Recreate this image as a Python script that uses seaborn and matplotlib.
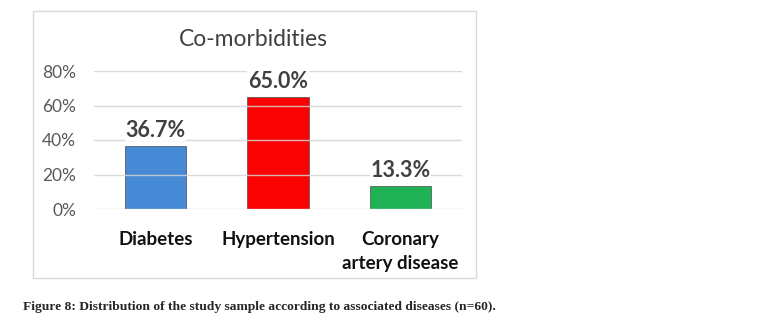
import matplotlib
matplotlib.use('Agg')
import matplotlib.pyplot as plt
import matplotlib.patches as mpatches
import seaborn as sns
import pandas as pd

categories = ['Diabetes', 'Hypertension', 'Coronary\nartery disease']
percent = [36.7, 65.0, 13.3]
bar_colors = ['#4689d4', '#fb0303', '#1fb356']
yticks = [0, 20, 40, 60, 80]

df = pd.DataFrame({'Disease': categories, 'Percent': percent})

sns.set_style('white')
plt.rcParams['font.family'] = ['Lato', 'DejaVu Sans']

fig = plt.figure(figsize=(7.64, 3.33), dpi=100)
# chart frame like the office-style box
fig.patches.append(mpatches.Rectangle((33 / 764, 1 - 278 / 333), 443 / 764, 267 / 333,
                                      transform=fig.transFigure, fill=False,
                                      edgecolor='#d9d9d9', linewidth=1.0))

ax = fig.add_axes([94 / 764, 1 - 209 / 333, 368 / 764, 138 / 333])
sns.barplot(data=df, x='Disease', y='Percent', hue='Disease', palette=bar_colors,
            width=0.5, legend=False, ax=ax, saturation=1,
            edgecolor='#4d4d4d', linewidth=0.5)
for patch in ax.patches:
    patch.set_zorder(1)
ax.set_xlim(-0.5, 2.5)
ax.set_ylim(0, 80)

# gridlines run across the bars, as in the original
ax.grid(False)
for t in yticks:
    ax.axhline(t, color='#d4d4d4', linewidth=1.0, alpha=0.85, zorder=2)

ax.set_yticks(yticks)
ax.set_yticklabels([f'{t}%' for t in yticks], color='#595959', fontsize=12.5)
ax.tick_params(axis='y', length=0, pad=13)
ax.tick_params(axis='x', length=0, pad=16)
ax.set_xticks(range(len(categories)))
ax.set_xticklabels(categories, fontsize=13.5, fontweight='bold', color='#111111',
                   linespacing=1.45)
ax.set_xlabel('')
ax.set_ylabel('')
for s in ax.spines.values():
    s.set_visible(False)

for i, v in enumerate(percent):
    ax.text(i, v + 3, f'{v:.1f}%', ha='center', va='bottom', fontsize=15.5,
            fontweight='bold', color='#404040', zorder=4,
            bbox=dict(facecolor='white', edgecolor='none', pad=0.5))

fig.text(253 / 764, 1 - 39 / 333, 'Co-morbidities', ha='center', va='center',
         fontsize=16.5, color='#404040')

fig.text(23 / 764, 1 - 307 / 333,
         'Figure 8: Distribution of the study sample according to associated diseases (n=60).',
         ha='left', va='center', fontsize=9.7, fontweight='bold',
         family=['Liberation Serif', 'DejaVu Serif'])

fig.savefig('out.png', dpi=100)
